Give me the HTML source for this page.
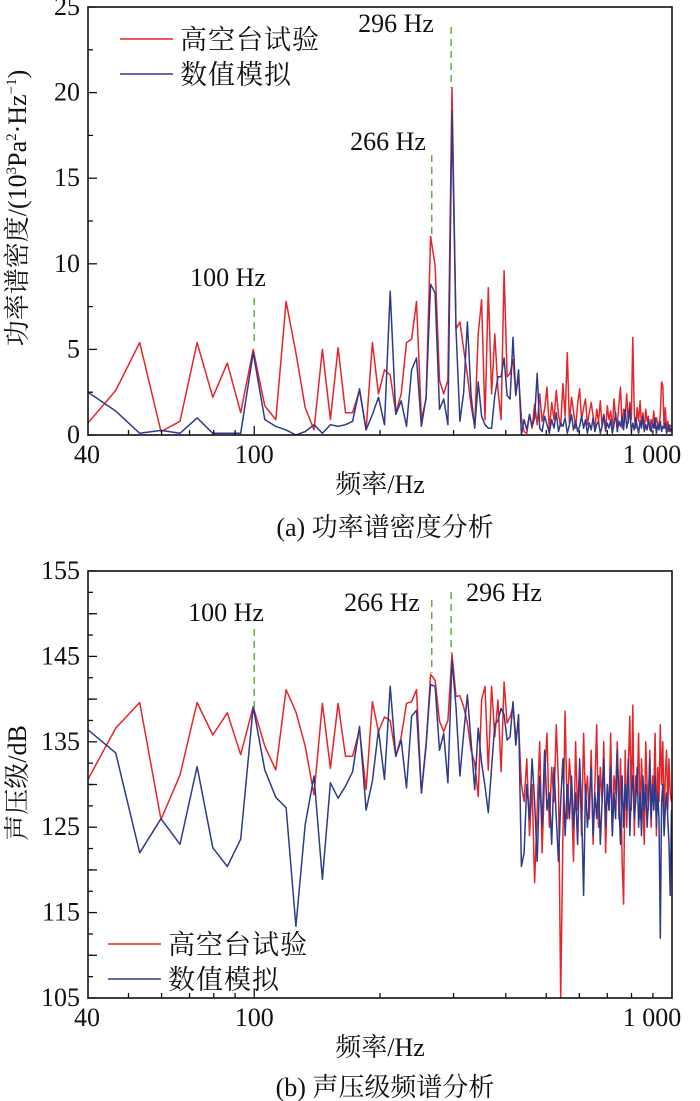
<!DOCTYPE html>
<html><head><meta charset="utf-8">
<style>
html,body{margin:0;padding:0;background:#fff;}
svg{display:block;}
text{font-family:"Liberation Serif","Noto Serif CJK SC",serif;fill:#111;}
</style></head>
<body>
<svg id="root" width="700" height="1101" viewBox="0 0 700 1101" xmlns="http://www.w3.org/2000/svg"></svg>
<script>
// ---- data ----
const freqCount = 146;
const freqStep = 6.6;
const xTickLabels = ["40","100","1 000"];
const xTickValues = [40,100,1000];
const psdTicks = [0,5,10,15,20,25];
const splTicks = [105,115,125,135,145,155];
const markerFreqs = [100,266,296];
const markerLabels = ["100 Hz","266 Hz","296 Hz"];

const psdTest = [0.7,2.6,5.4,0.2,0.8,5.4,2.2,4.2,1.3,5.0,1.7,0.9,7.8,4.8,1.6,0.3,5.0,0.9,5.1,1.3,1.3,2.6,0.3,5.4,2.4,3.8,3.5,1.3,2.4,5.4,5.6,7.8,0.9,2.1,11.6,9.9,3.2,2.4,3.2,20.3,6.2,6.6,5.0,3.5,1.7,0.5,5.9,7.9,0.9,8.6,2.4,5.9,2.6,0.9,9.6,3.4,3.6,4.4,2.4,3.4,1.0,
0.2,0.1,1.2,0.4,1.8,0.6,2.4,0.8,1.5,2.8,
0.3,1.9,0.9,2.6,1.2,0.5,3.0,1.1,4.8,0.7,
2.2,1.4,0.4,1.8,2.7,0.9,1.6,2.1,0.6,1.3,
1.9,1.1,0.3,1.5,0.8,2.0,0.5,1.2,0.2,1.7,
0.9,1.4,0.3,2.1,1.0,0.6,1.8,2.8,0.4,1.5,
1.0,2.4,0.7,1.9,0.9,5.7,1.2,0.4,1.6,0.8,
2.0,0.5,1.3,0.2,1.5,0.8,1.1,0.3,0.9,0.6,
1.4,0.4,1.0,0.7,0.5,1.2,3.1,2.9,0.4,1.6,
0.3,0.8,0.2,0.5,0.6];
const psdSim = [2.5,1.4,0.1,0.27,0.1,1.0,0.1,0.1,0.1,4.8,0.9,0.5,0.3,0,0.2,0.6,0.1,0.6,0.5,0.6,0.8,2.7,0.3,1.2,2.2,0.6,8.4,1.2,2.0,0.5,3.8,4.5,0.5,2.2,8.8,8.3,1.5,2.1,0.6,18.9,6.2,0.8,2.5,6.6,2.3,0.4,3.1,1.1,0.6,0.4,0.4,2.3,3.4,3.4,4.5,2.3,2.1,5.7,2.3,3.8,0,
0.9,0.3,1.2,0.5,1.0,3.6,0.4,0.2,1.1,0.6,
0.1,0.9,0.4,1.3,0.2,0.7,0.5,1.0,0.1,0.6,
1.2,0.3,0.8,0.2,0.5,1.1,0.4,0.9,0.1,0.7,
0.3,1.0,0.2,0.6,0.8,0.1,0.5,1.2,0.3,0.7,
0.4,0.9,0.1,0.6,1.3,0.2,0.8,0.5,1.1,0.3,
1.5,0.4,0.9,1.6,0.2,0.7,0.3,1.0,0.5,0.1,
0.8,0.4,1.1,0.2,0.6,0.3,0.9,0.5,0.2,0.7,
0.4,1.0,0.1,0.6,0.3,0.8,0.2,0.5,0.4,0.7,
0.1,0.3,0.6,0.2,0.4];
const splTest = [130.6,136.6,139.6,125.9,131.1,139.6,135.8,138.4,133.5,139.1,134.5,131.7,141.1,138.5,134.5,128.8,139.5,131.9,139.5,133.3,133.3,136.4,129.4,139.7,136.2,137.9,137.5,133.3,135.6,139.5,139.7,141.1,129,134.5,142.9,142.2,137.4,136.2,137.5,145.3,140.3,140.4,139.1,137.2,134,132.5,128.6,139.9,141.5,131.7,141.5,135.6,139.9,131.5,142,137.2,137.9,139.1,135.6,137,130,
128,133,124,130,118.5,127,135,122,131,136,
125,132,128,137,130,105,124,138.6,126,133,
129,121,135,127,132,124,136,128,131,126,
134,123,130,137,125,132,128,135,122,130,
127,136,124,131,129,135,126,133,121,116,
134,125,132,138,127,139.3,124,131,129,136,
126,133,128,123,135,130,127,134,125,131,
129,136,124,132,128,137,130,135,126,131,
134,127,133,129,128];
const splSim = [136.4,133.7,122,126,123,132.1,122.6,120.4,123.6,139.1,131.7,128.5,127.3,113.4,125.3,131,118.9,130.2,128.4,129.8,131.5,136.8,127,130.4,136.4,130.6,141.5,133.3,135.2,129.6,138,138.7,129,134.8,141.7,141.5,134,136,130.2,144.6,139.1,131,136,140.5,135,129.4,136.6,132.5,129.8,126.7,132,137,137.5,138.9,138.2,135.2,135.6,139.7,134.6,138.2,120.4,
122,130,126,133,128,121,131,125,134,127,
129,123,132,126,121,128,133,124,130,126,
131,125,129,123,133,127,117,130,125,128,
132,124,129,126,131,123,128,133,125,130,
127,132,124,129,126,134,128,123,131,125,
130,127,133,124,129,131,126,128,132,125,
129,124,131,127,130,125,128,133,126,130,
127,131,125,129,126,112,128,130,124,127,
129,126,123,117,127];
const freqs = Array.from({length:freqCount},(_,k)=>40+freqStep*k);

// ---- drawing ----
const NS="http://www.w3.org/2000/svg";
const root=document.getElementById('root');
function mk(tag,attrs,parent){const e=document.createElementNS(NS,tag);for(const k in attrs)e.setAttribute(k,attrs[k]);(parent||root).appendChild(e);return e;}
const RED="#e5252a", BLUE="#2e3a8c", GREEN="#5fb43a";

function chart(cfg){
  const g=mk('g',{});
  
  
  const L=88,R=672,T=cfg.top,B=cfg.bottom;
  const xs=f=>L+(Math.log10(f/40))/Math.log10(1000/40)*(R-L);
  const ys=v=>B-(v-cfg.ymin)/(cfg.ymax-cfg.ymin)*(B-T);
  const clip='clip-'+cfg.name;
  const cp=mk('clipPath',{id:clip},g);mk('rect',{x:L,y:T,width:R-L,height:B-T},cp);
  [[cfg.test,RED,'test-series-line'],[cfg.sim,BLUE,'simulation-series-line']].forEach(([arr,col,nm])=>{
    const d=arr.map((v,i)=>(i?'L':'M')+xs(freqs[i]).toFixed(1)+','+ys(v).toFixed(1)).join('');
    const p=mk('path',{d:d,fill:'none',stroke:col,'stroke-width':1.5,'stroke-linejoin':'round','clip-path':'url(#'+clip+')'},g);
    
    
  });
  markerFreqs.forEach((f,i)=>{
    const m=cfg.markers[i];
    const ln=mk('line',{x1:xs(f),x2:xs(f),y1:m.y1,y2:m.y2,stroke:GREEN,'stroke-width':1.5,'stroke-dasharray':'7,5'},g);
    
    
    const t=mk('text',{x:m.tx,y:m.ty,'font-size':26,'text-anchor':'middle'},g);
    t.textContent=markerLabels[i];
    
    
  });
  const fr=mk('rect',{x:L,y:T,width:R-L,height:B-T,fill:'none',stroke:'#111','stroke-width':1.6},g);
  
  
  const minor=[50,60,70,80,90,200,300,400,500,600,700,800,900];
  minor.forEach(f=>mk('line',{x1:xs(f),x2:xs(f),y1:B,y2:B-5,stroke:'#111','stroke-width':1.3},g));
  mk('line',{x1:xs(100),x2:xs(100),y1:B,y2:B-9,stroke:'#111','stroke-width':1.3},g);
  xTickValues.forEach((v,i)=>{
    const t=mk('text',{x:xs(v)+(i==2?-20:(i==0?-1:0)),y:B+28,'font-size':26,'text-anchor':'middle'},g);
    t.textContent=xTickLabels[i];
    
    
  });
  const ticks=cfg.ticks, step=ticks[1]-ticks[0];
  ticks.forEach((v,i)=>{
    mk('line',{x1:L,x2:L+9,y1:ys(v),y2:ys(v),stroke:'#111','stroke-width':1.3},g);
    if(i<ticks.length-1){
      mk('line',{x1:L,x2:L+5,y1:ys(v+step/2),y2:ys(v+step/2),stroke:'#111','stroke-width':1.3},g);
      if(cfg.quarter){
        mk('line',{x1:L,x2:L+9,y1:ys(v+step/2),y2:ys(v+step/2),stroke:'#111','stroke-width':1.3},g);
        mk('line',{x1:L,x2:L+5,y1:ys(v+step/4),y2:ys(v+step/4),stroke:'#111','stroke-width':1.3},g);
        mk('line',{x1:L,x2:L+5,y1:ys(v+3*step/4),y2:ys(v+3*step/4),stroke:'#111','stroke-width':1.3},g);
      }
    }
    const t=mk('text',{x:L-8,y:ys(v)+8,'font-size':26,'text-anchor':'end'},g);
    t.textContent=cfg.tickLabels[i];
    
    
  });
  const xt=mk('text',{x:(L+R)/2,y:cfg.xTitleY,'font-size':26,'text-anchor':'middle'},g);
  xt.textContent='频率/Hz';
  
  
  const yt=mk('text',{x:0,y:0,'font-size':26,'text-anchor':'middle',transform:'translate(26,'+cfg.yTitleY+') rotate(-90)'},g);
  yt.innerHTML=cfg.yTitle;
  
  
  const cap=mk('text',{x:(L+R)/2+5,y:cfg.capY,'font-size':26,'text-anchor':'middle'},g);
  cap.textContent=cfg.caption;
  
  
  [['高空台试验',RED],['数值模拟',BLUE]].forEach(([lab,col],i)=>{
    const ly=cfg.legY+i*35;
    const l=mk('line',{x1:cfg.legX,x2:cfg.legX+53,y1:ly,y2:ly,stroke:col,'stroke-width':1.6},g);
    
    
    const t=mk('text',{x:cfg.legX+60,y:ly+10,'font-size':27,'letter-spacing':'1'},g);
    t.textContent=lab;
    
    
  });
}

chart({name:'psd-chart',top:7,bottom:435,ymin:0,ymax:25,ticks:psdTicks,tickLabels:psdTicks.map(String),
  test:psdTest,sim:psdSim,xTitleY:493,capY:536,yTitleY:208,quarter:false,
  yTitle:'功率谱密度/(10<tspan font-size="15" dy="-10">3</tspan><tspan dy="10">Pa</tspan><tspan font-size="15" dy="-10">2</tspan><tspan dy="10">·Hz</tspan><tspan font-size="15" dy="-10">−1</tspan><tspan dy="10">)</tspan>',
  caption:'(a) 功率谱密度分析',legX:120,legY:39,
  markers:[{y1:298,y2:345,tx:228,ty:286},{y1:155,y2:235,tx:388,ty:150},{y1:27,y2:88,tx:396,ty:32}]});

chart({name:'spl-chart',top:571,bottom:998,ymin:105,ymax:155,ticks:splTicks,tickLabels:splTicks.map(String),
  test:splTest,sim:splSim,xTitleY:1056,capY:1096,yTitleY:783,quarter:true,
  yTitle:'声压级/dB',caption:'(b) 声压级频谱分析',legX:108,legY:944,
  markers:[{y1:629,y2:708,tx:226,ty:621},{y1:600,y2:673,tx:382,ty:611},{y1:592,y2:653,tx:504,ty:601}]});
</script>
</body></html>
